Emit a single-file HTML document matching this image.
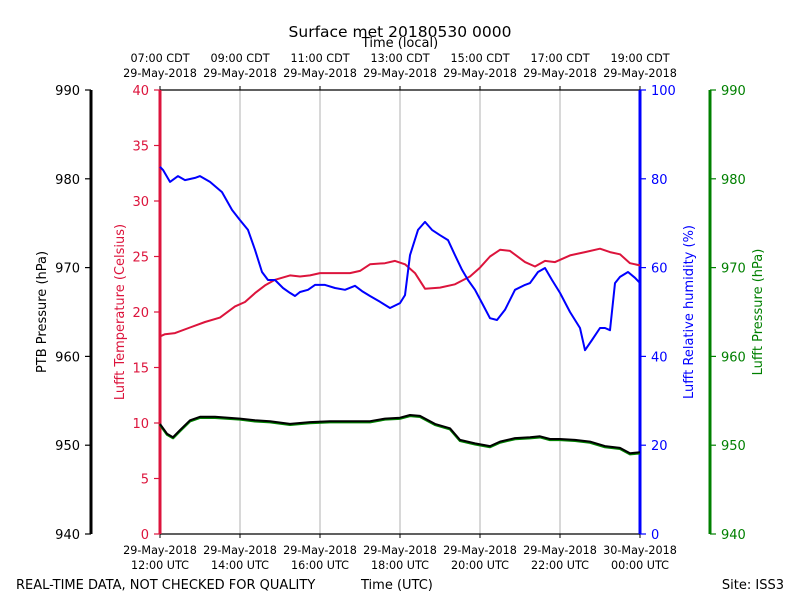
<!DOCTYPE html>
<html><head><meta charset="utf-8"><style>
body{margin:0;background:#fff}
svg text{font-family:"DejaVu Sans","Liberation Sans",sans-serif}
</style></head><body>
<svg id="c" width="800" height="600" xmlns="http://www.w3.org/2000/svg"></svg>
<script>
const tempMin=[0,7.5,22.5,45,67.5,90,112.5,127.5,142.5,157.5,172.5,195,210,225,240,262.5,285,300,315,337.5,352.5,367.5,382.5,397.5,420,442.5,465,480,495,510,525,547.5,562.5,577.5,592.5,615,637.5,660,675,690,705,720];
const tempVals=[17.8,18.0,18.1,18.6,19.1,19.5,20.5,20.9,21.7,22.4,22.9,23.3,23.2,23.3,23.5,23.5,23.5,23.7,24.3,24.4,24.6,24.3,23.5,22.1,22.2,22.5,23.2,24.0,25.0,25.6,25.5,24.5,24.1,24.6,24.5,25.1,25.4,25.7,25.4,25.2,24.4,24.2];
const rhMin=[0,4.5,15,27,37.5,52.5,60,75,93,108,120,132,142.5,153,162,172.5,184.5,195,202.5,210,222,232.5,247.5,262.5,277.5,292.5,303,315,330,345,360,367.5,375,387,397.5,408,420,432,442.5,453,462,472.5,484.5,495,505.5,517.5,532.5,547.5,555,567,577.5,588,600,615,630,637.5,648,660,667.5,675,682.5,690,702,712.5,720];
const rhVals=[82.7,82.0,79.3,80.6,79.7,80.2,80.6,79.3,77.0,73.0,70.7,68.5,64.0,59.0,57.2,57.2,55.4,54.3,53.6,54.5,55.0,56.1,56.1,55.4,55.0,55.9,54.7,53.6,52.3,50.9,52.0,53.8,62.8,68.5,70.3,68.5,67.3,66.2,62.8,59.5,57.2,55.0,51.6,48.6,48.2,50.5,55.0,56.1,56.5,59.0,59.9,57.2,54.3,50.0,46.4,41.4,43.7,46.4,46.4,45.9,56.5,57.9,59.0,57.7,56.5];
const presMin=[0,10.5,19.5,30,45,60,82.5,120,142.5,165,195,225,255,285,315,337.5,360,375,390,412.5,435,450,472.5,495,510,532.5,555,570,585,600,622.5,645,667.5,690,705,720];
const ptbVals=[952.4,951.3,950.9,951.7,952.8,953.2,953.2,953.0,952.8,952.7,952.4,952.6,952.7,952.7,952.7,953.0,953.1,953.4,953.3,952.4,951.9,950.6,950.2,949.9,950.4,950.8,950.9,951.0,950.7,950.7,950.6,950.4,949.9,949.7,949.1,949.2];
const lufftPresVals=[952.3,951.2,950.8,951.6,952.7,953.1,953.1,952.9,952.7,952.6,952.3,952.5,952.6,952.6,952.6,952.9,953.0,953.3,953.2,952.3,951.8,950.5,950.1,949.8,950.3,950.7,950.8,950.9,950.6,950.6,950.5,950.3,949.8,949.6,949.0,949.1];
const localTicks=["07:00 CDT","09:00 CDT","11:00 CDT","13:00 CDT","15:00 CDT","17:00 CDT","19:00 CDT"];
const utcTicks=["12:00 UTC","14:00 UTC","16:00 UTC","18:00 UTC","20:00 UTC","22:00 UTC","00:00 UTC"];
const utcDates=["29-May-2018","29-May-2018","29-May-2018","29-May-2018","29-May-2018","29-May-2018","30-May-2018"];
const presTicks=[940,950,960,970,980,990];
const tempTicks=[0,5,10,15,20,25,30,35,40];
const rhTicks=[0,20,40,60,80,100];

const L=160,R=640,T=90,B=534;
const X=m=>L+(R-L)*m/720;
const yP=v=>B-(B-T)*(v-940)/50;
const yT=v=>B-(B-T)*v/40;
const yH=v=>B-(B-T)*v/100;
const svg=document.getElementById('c');
const NS='http://www.w3.org/2000/svg';
function mk(tag,attrs,name,txt){const e=document.createElementNS(NS,tag);for(const k in attrs)e.setAttribute(k,attrs[k]);


if(txt!==undefined)e.textContent=txt;svg.appendChild(e);return e;}
for(let i=1;i<6;i++){mk('line',{x1:X(i*120),x2:X(i*120),y1:T,y2:B,stroke:'#b0b0b0','stroke-width':1},'grid-line');}
mk('line',{x1:L,x2:R,y1:T,y2:T,stroke:'#000','stroke-width':1.2},'top-spine');
mk('line',{x1:L,x2:R,y1:B,y2:B,stroke:'#000','stroke-width':1.2},'bottom-spine');
for(let i=0;i<7;i++){const x=X(i*120);
mk('line',{x1:x,x2:x,y1:T,y2:T-4,stroke:'#000'},'top-tick');
mk('line',{x1:x,x2:x,y1:B,y2:B+4,stroke:'#000'},'bottom-tick');
mk('text',{x:x,y:62,'text-anchor':'middle','font-size':11.2},'local-tick-label',localTicks[i]);
mk('text',{x:x,y:77,'text-anchor':'middle','font-size':11.2},'local-date-label','29-May-2018');
mk('text',{x:x,y:554,'text-anchor':'middle','font-size':11.2},'utc-date-label',utcDates[i]);
mk('text',{x:x,y:569,'text-anchor':'middle','font-size':11.2},'utc-tick-label',utcTicks[i]);}
function axis(x,ticks,yf,color,side,name){
mk('line',{x1:x,x2:x,y1:T,y2:B,stroke:color,'stroke-width':3},name+'-spine');
ticks.forEach(t=>{const y=yf(t);
mk('line',{x1:x,x2:x+side*6,y1:y,y2:y,stroke:color,'stroke-width':1.2},name+'-tick');
mk('text',{x:x+side*11,y:y+5,'text-anchor':side<0?'end':'start','font-size':13,fill:color},name+'-tick-label',t);});}
axis(91,presTicks,yP,'#000',-1,'ptb-axis');
axis(L,tempTicks,yT,'#dc143c',-1,'temp-axis');
axis(R,rhTicks,yH,'#0000ff',1,'rh-axis');
axis(710,presTicks,yP,'#008000',1,'lufft-pres-axis');
function vlab(x,txt,color,name){mk('text',{x:x,y:312,'text-anchor':'middle','font-size':13,fill:color,transform:`rotate(-90 ${x} 312)`},name,txt);}
vlab(46,'PTB Pressure (hPa)','#000','ptb-axis-title');
vlab(124,'Lufft Temperature (Celsius)','#dc143c','temp-axis-title');
vlab(693,'Lufft Relative humidity (%)','#0000ff','rh-axis-title');
vlab(762,'Lufft Pressure (hPa)','#008000','lufft-pres-axis-title');
function line(ts,vs,yf,color,w,name){mk('polyline',{points:ts.map((t,i)=>X(t).toFixed(1)+','+yf(vs[i]).toFixed(1)).join(' '),fill:'none',stroke:color,'stroke-width':w,'stroke-linejoin':'round'},name);}
line(presMin,lufftPresVals,yP,'#008000',2.5,'lufft-pressure-line');
line(presMin,ptbVals,yP,'#000',2,'ptb-pressure-line');
line(tempMin,tempVals,yT,'#dc143c',2,'temperature-line');
line(rhMin,rhVals,yH,'#0000ff',2,'humidity-line');
mk('text',{x:400,y:37,'text-anchor':'middle','font-size':15.5},'chart-title','Surface met 20180530 0000');
mk('text',{x:400,y:47,'text-anchor':'middle','font-size':13},'top-axis-title','Time (local)');
mk('text',{x:16,y:589,'font-size':13},'quality-note','REAL-TIME DATA, NOT CHECKED FOR QUALITY');
mk('text',{x:361,y:589,'font-size':13},'bottom-axis-title','Time (UTC)');
mk('text',{x:784,y:589,'text-anchor':'end','font-size':13},'site-label','Site: ISS3');
</script>
</body></html>
